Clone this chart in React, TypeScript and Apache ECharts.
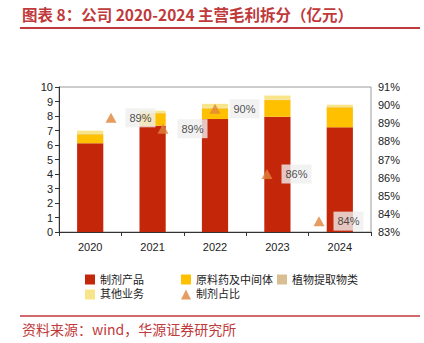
import React, { useEffect, useRef } from "react";
import * as echarts from "echarts";

const years = ["2020", "2021", "2022", "2023", "2024"];
const formulation = [6.12, 7.33, 7.79, 7.95, 7.22];
const apiIntermediate = [0.62, 0.86, 0.74, 1.15, 1.38];
const plantExtract = [0.02, 0.02, 0.03, 0.03, 0.02];
const otherBiz = [0.23, 0.15, 0.28, 0.28, 0.16];
const formulationShare = [89.3, 88.7, 89.8, 86.2, 83.6];
const leftTicks = { min: 0, max: 10, interval: 1 };
const rightTicks = { min: 83, max: 91, interval: 1 };

const RED = "#C4260A";
const ORANGE = "#FFC000";
const TAN = "#D8BE92";
const LIGHT = "#F8E58A";
const TRI = "#E0843A";
const TITLE_RED = "#C0393B";
const FONT = "'Liberation Sans', 'Noto Sans CJK SC', sans-serif";

export default function App() {
  const ref = useRef<HTMLDivElement>(null);
  useEffect(() => {
    if (!ref.current) return;
    const chart = echarts.init(ref.current, undefined, { renderer: "svg" });
    const barCommon = { type: "bar", stack: "total", barWidth: "42%", xAxisIndex: 0, yAxisIndex: 0 };
    const legendCommon = {
      orient: "vertical",
      top: 269,
      itemWidth: 10,
      itemHeight: 10,
      itemGap: 4,
      textStyle: { fontSize: 11, color: "#222" },
    };
    chart.setOption({
      animation: false,
      textStyle: { fontFamily: FONT },
      grid: {
        left: 59,
        right: 53,
        top: 87,
        bottom: 111,
        show: true,
        borderColor: "#9a9a9a",
        borderWidth: 1,
      },
      xAxis: [
        {
          type: "category",
          data: years,
          axisLine: { lineStyle: { color: "#333", width: 1 } },
          axisTick: { show: true, length: 4, lineStyle: { color: "#333" } },
          axisLabel: { color: "#222", fontSize: 11, margin: 9 },
        },
        { type: "value", min: 0, max: 6, show: false },
      ],
      yAxis: [
        {
          type: "value",
          ...leftTicks,
          axisLine: { show: true, lineStyle: { color: "#333" } },
          axisTick: { show: true, length: 4, lineStyle: { color: "#333" } },
          axisLabel: { color: "#222", fontSize: 11, margin: 6 },
          splitLine: { show: false },
        },
        {
          type: "value",
          ...rightTicks,
          position: "right",
          axisLine: { show: false },
          axisTick: { show: false },
          axisLabel: { color: "#222", fontSize: 11, margin: 7, formatter: "{value}%" },
          splitLine: { show: false },
        },
      ],
      legend: [
        {
          ...legendCommon,
          left: 80,
          data: [
            { name: "制剂产品", icon: "rect" },
            { name: "其他业务", icon: "rect" },
          ],
        },
        {
          ...legendCommon,
          left: 176,
          data: [
            { name: "原料药及中间体", icon: "rect" },
            { name: "制剂占比", icon: "triangle" },
          ],
        },
        {
          ...legendCommon,
          left: 272,
          data: [{ name: "植物提取物类", icon: "rect" }],
        },
      ],
      series: [
        { ...barCommon, name: "制剂产品", data: formulation, itemStyle: { color: RED } },
        { ...barCommon, name: "原料药及中间体", data: apiIntermediate, itemStyle: { color: ORANGE } },
        { ...barCommon, name: "植物提取物类", data: plantExtract, itemStyle: { color: TAN } },
        { ...barCommon, name: "其他业务", data: otherBiz, itemStyle: { color: LIGHT } },
        {
          type: "scatter",
          name: "制剂占比",
          xAxisIndex: 1,
          yAxisIndex: 1,
          symbol: "triangle",
          symbolSize: [11, 10],
          itemStyle: { color: TRI },
          data: formulationShare.map((v, i) => [i + 1, v]),
          label: {
            show: true,
            position: "right",
            distance: 9,
            formatter: (p: any) => Math.round(p.value[1]) + "%",
            fontSize: 11,
            color: "#222",
            backgroundColor: "#EFEFEF",
            padding: [4, 4],
          },
          z: 5,
        },
      ],
      graphic: [
        {
          type: "text",
          left: 22,
          top: 6,
          style: {
            text: "图表 8：公司 2020-2024 主营毛利拆分（亿元）",
            fill: TITLE_RED,
            font: "bold 15.5px 'Noto Sans CJK SC', sans-serif",
          },
        },
        {
          type: "line",
          shape: { x1: 20, y1: 28, x2: 420, y2: 28 },
          style: { stroke: TITLE_RED, lineWidth: 2 },
        },
        {
          type: "line",
          shape: { x1: 20, y1: 316, x2: 420, y2: 316 },
          style: { stroke: TITLE_RED, lineWidth: 1.5 },
        },
        {
          type: "text",
          left: 22,
          top: 322,
          style: {
            text: "资料来源：wind，华源证券研究所",
            fill: TITLE_RED,
            font: "14px 'Noto Sans CJK SC', sans-serif",
          },
        },
      ],
    });
    return () => chart.dispose();
  }, []);
  return <div ref={ref} style={{ width: 424, height: 343, position: "fixed", left: 0, top: 0, background: "#fff" }} />;
}
